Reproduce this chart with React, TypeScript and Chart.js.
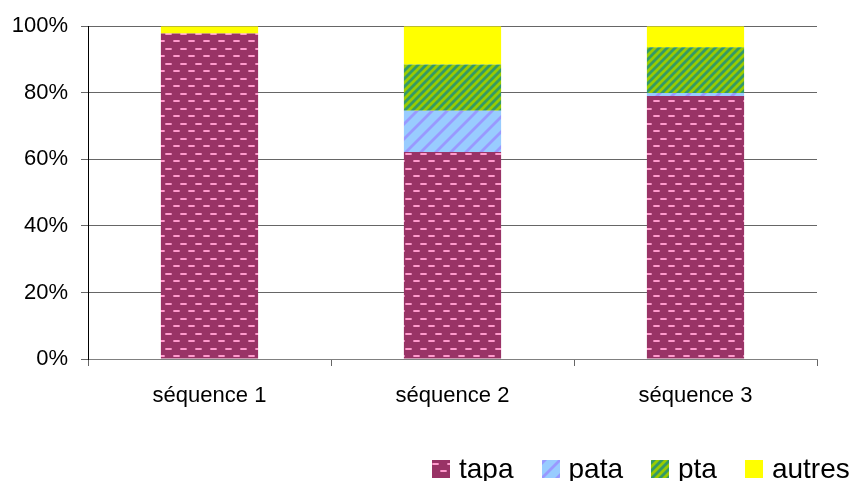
import React, { useEffect, useRef } from 'react';
import { Chart, registerables } from 'chart.js';

Chart.register(...registerables);

// ---- data ----
const categories = ['séquence 1', 'séquence 2', 'séquence 3'];
const seriesNames = ['tapa', 'pata', 'pta', 'autres'];
const tapaValues = [97.8, 62.2, 79.0];
const pataValues = [0, 12.4, 0.9];
const ptaValues = [0, 13.9, 13.8];
const autresValues = [2.2, 11.5, 6.3];
const yMin = 0;
const yMax = 100;
const yStep = 20;

const FONT = 'Arial, "Liberation Sans", sans-serif';

function makeTile(kind: string): HTMLCanvasElement {
  const c = document.createElement('canvas');
  if (kind === 'tapa') {
    c.width = 15; c.height = 15;
    const g = c.getContext('2d')!;
    g.fillStyle = '#993366';
    g.fillRect(0, 0, 15, 15);
    g.fillStyle = '#d97aab';
    g.fillRect(0, 3, 7, 2);
    g.fillRect(8, 10, 7, 2);
    g.fillStyle = '#ff99cc';
    g.fillRect(1, 3, 5, 2);
    g.fillRect(9, 10, 5, 2);
  } else if (kind === 'pata') {
    c.width = 15; c.height = 15;
    const g = c.getContext('2d')!;
    for (let x = 0; x < 15; x++) {
      for (let y = 0; y < 15; y++) {
        const d = (x + y) % 15;
        let col = '#99ccff';
        if (d >= 1 && d <= 3) col = '#9999ff';
        else if (d === 0 || d === 4) col = '#99b3ff';
        g.fillStyle = col;
        g.fillRect(x, y, 1, 1);
      }
    }
  } else if (kind === 'pta') {
    c.width = 8; c.height = 8;
    const g = c.getContext('2d')!;
    for (let x = 0; x < 8; x++) {
      for (let y = 0; y < 8; y++) {
        const d = (x + y) % 8;
        let col = '#99cc00';
        if (d >= 1 && d <= 3) col = '#339966';
        else if (d === 0 || d === 4) col = '#66b233';
        g.fillStyle = col;
        g.fillRect(x, y, 1, 1);
      }
    }
  } else {
    c.width = 4; c.height = 4;
    const g = c.getContext('2d')!;
    g.fillStyle = '#ffff00';
    g.fillRect(0, 0, 4, 4);
  }
  return c;
}

export default function App() {
  const canvasRef = useRef<HTMLCanvasElement | null>(null);
  const swatchRefs = useRef<(HTMLCanvasElement | null)[]>([]);

  useEffect(() => {
    const canvas = canvasRef.current;
    if (!canvas) return;
    const ctx = canvas.getContext('2d')!;
    const tiles = seriesNames.map((n) => makeTile(n));
    const fills = tiles.map((t) => ctx.createPattern(t, 'repeat')!);
    const seriesValues = [tapaValues, pataValues, ptaValues, autresValues];

    swatchRefs.current.forEach((sw, i) => {
      if (!sw) return;
      const g = sw.getContext('2d')!;
      g.fillStyle = g.createPattern(tiles[i], 'repeat')!;
      g.fillRect(0, 0, sw.width, sw.height);
    });

    const chart = new Chart(canvas, {
      type: 'bar',
      data: {
        labels: categories,
        datasets: seriesNames.map((name, i) => ({
          label: name,
          data: seriesValues[i],
          backgroundColor: fills[i],
          borderWidth: 0,
          barPercentage: 0.4,
          categoryPercentage: 1.0,
        })),
      },
      options: {
        responsive: false,
        animation: false,
        layout: { padding: { top: 26, right: 37, left: 0, bottom: 0 } },
        plugins: {
          legend: { display: false },
          tooltip: { enabled: false },
        },
        scales: {
          x: {
            stacked: true,
            offset: true,
            grid: {
              offset: true,
              drawOnChartArea: false,
              drawTicks: true,
              tickLength: 7,
              color: '#666666',
            },
            border: { color: '#808080', width: 1 },
            ticks: {
              color: '#000',
              font: { family: FONT, size: 22 },
              padding: 17,
            },
            afterFit: (s: any) => { s.height = 122; },
          },
          y: {
            stacked: true,
            min: yMin,
            max: yMax,
            grid: {
              color: '#666666',
              tickLength: 7,
            },
            border: { color: '#000', width: 1 },
            ticks: {
              stepSize: yStep,
              color: '#000',
              font: { family: FONT, size: 22 },
              padding: 13,
              callback: (v: any) => v + '%',
            },
            afterFit: (s: any) => { s.width = 88; },
          },
        },
      },
    });
    return () => chart.destroy();
  }, []);

  return (
    <div style={{ position: 'absolute', left: 0, top: 0, width: 854, height: 481, background: '#fff', overflow: 'hidden' }}>
      <canvas ref={canvasRef} width={854} height={481} style={{ display: 'block', width: 854, height: 481 }} />
      <div
        style={{
          position: 'absolute',
          left: 432,
          top: 455,
          display: 'flex',
          alignItems: 'center',
          whiteSpace: 'nowrap',
          fontFamily: FONT,
          fontSize: 28,
          lineHeight: '28px',
          color: '#000',
        }}
      >
        {seriesNames.map((name, i) => (
          <div key={name} style={{ display: 'flex', alignItems: 'center', marginLeft: i === 0 ? 0 : 28 }}>
            <canvas
              ref={(el) => { swatchRefs.current[i] = el; }}
              width={18}
              height={18}
              style={{ display: 'block', width: 18, height: 18, marginRight: 9 }}
            />
            <span>{name}</span>
          </div>
        ))}
      </div>
    </div>
  );
}
